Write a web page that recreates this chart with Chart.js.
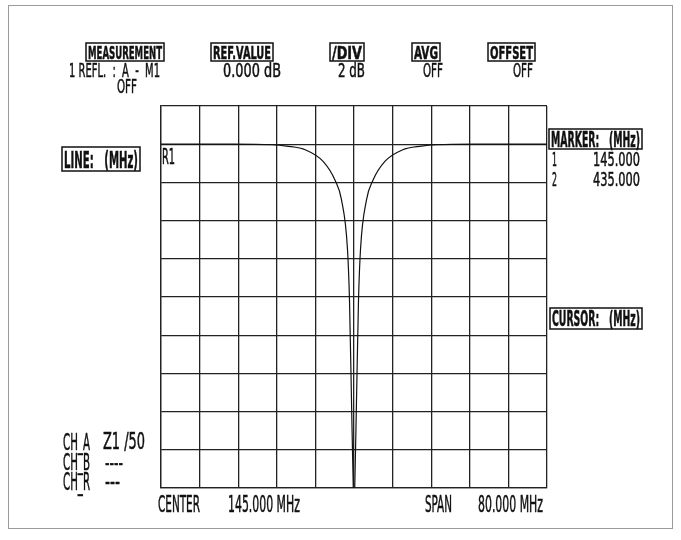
<!DOCTYPE html>
<html lang="en">
<head>
<meta charset="UTF-8">
<title>Reflection sweep</title>
<script src="https://cdn.jsdelivr.net/npm/chart.js"></script>
<style>
  html, body { margin: 0; padding: 0; background: #fff; }
  #plot { display: block; }
</style>
</head>
<body>
<canvas id="plot" width="681" height="540"></canvas>
<script>
// sweep (MHz / dB, 2 dB per div, ref 0 dB)
const freqMHz = [105, 120, 128, 131, 135, 138.6, 141.1, 142.4, 143.65, 144.07, 144.48, 144.85, 145,
                 145.15, 145.52, 145.93, 146.35, 147.6, 148.9, 151.4, 155, 159, 162, 170, 185];
const reflDb  = [0, 0, -0.03, -0.1, -0.3, -0.9, -1.9, -2.9, -5.5, -8.2, -13.4, -18, -19,
                 -18, -13.4, -8.2, -5.5, -2.9, -1.9, -0.9, -0.3, -0.1, -0.03, 0, 0];
const xTicks = [105, 113, 121, 129, 137, 145, 153, 161, 169, 177, 185];
const yTicks = [2, 0, -2, -4, -6, -8, -10, -12, -14, -16, -18];

const FONT = '"Liberation Sans Narrow", "DejaVu Sans Condensed", "Liberation Sans", sans-serif';

// [text, left, capTop, right, baseline, bold, box]
const labels = [
  ['MEASUREMENT', 88, 46, 162, 59, true, [86, 43, 164, 61]],
  ['1 REFL.  :  A  -  M1', 69, 63, 160, 77],
  ['OFF', 117, 79, 137, 93],
  ['REF.VALUE', 213, 46, 271, 59, true, [211, 43, 273, 61]],
  ['0.000 dB', 223, 63, 281, 77],
  ['/DIV', 332, 46, 362, 59, true, [330, 43, 364, 61]],
  ['2 dB', 338, 63, 365, 77],
  ['AVG', 414, 46, 438, 59, true, [412, 43, 440, 61]],
  ['OFF', 423, 63, 443, 77],
  ['OFFSET', 490, 46, 533, 59, true, [488, 43, 535, 61]],
  ['OFF', 513, 63, 533, 77],
  ['LINE:   (MHz)', 64, 151, 138, 168, true, [62, 147, 140, 171]],
  ['R1', 162, 149, 175, 164],
  ['MARKER:   (MHz)', 551, 132, 640, 147, true, [549, 129, 642, 149]],
  ['1', 552, 152, 557, 166],
  ['145.000', 593, 152, 640, 166],
  ['2', 552, 172, 557, 186],
  ['435.000', 593, 172, 640, 186],
  ['CURSOR:   (MHz)', 552, 311, 640, 326, true, [550, 308, 642, 329]],
  ['CH_A', 63, 433, 90, 450],
  ['Z1 /50', 103, 433, 145, 449],
  ['CH_B', 63, 453, 90, 470],
  ['----', 105, 453, 123, 470],
  ['CH_R', 63, 472, 90, 490],
  ['---', 105, 472, 120, 490],
  ['CENTER', 158, 495, 200, 512],
  ['145.000 MHz', 228, 495, 300, 512],
  ['SPAN', 425, 495, 452, 512],
  ['80.000 MHz', 478, 495, 543, 512]
];

const screenText = {
  id: 'screenText',
  beforeDraw(chart) {
    const ctx = chart.ctx;
    ctx.save();
    ctx.fillStyle = '#fff';
    ctx.fillRect(0, 0, chart.width, chart.height);
    ctx.strokeStyle = '#9a9a9a';
    ctx.lineWidth = 1;
    ctx.strokeRect(8.5, 5.5, 664, 523);
    ctx.restore();
  },
  afterDraw(chart) {
    const ctx = chart.ctx;
    ctx.save();
    ctx.fillStyle = '#111';
    ctx.strokeStyle = '#111';
    labels.forEach(l => {
      const [t, x0, top, x1, base, bold, box] = l;
      const size = (base - top) / 0.72;
      ctx.font = (bold ? 'bold ' : '') + size.toFixed(1) + 'px ' + FONT;
      ctx.textBaseline = 'alphabetic';
      const w = ctx.measureText(t).width;
      ctx.save();
      ctx.translate(x0, base);
      ctx.scale((x1 - x0) / w, 1);
      ctx.fillText(t, 0, 0);
      // plotter pen is a bit heavier than the font
      ctx.lineWidth = 0.5;
      ctx.strokeText(t, 0, 0);
      ctx.restore();
      if (box) {
        ctx.lineWidth = 1.5;
        ctx.strokeRect(box[0], box[1], box[2] - box[0], box[3] - box[1]);
      }
    });
    ctx.restore();
  }
};

new Chart(document.getElementById('plot'), {
  type: 'line',
  data: {
    datasets: [{
      data: freqMHz.map((f, i) => ({ x: f, y: reflDb[i] })),
      borderColor: '#111',
      borderWidth: 1.2,
      pointRadius: 0,
      cubicInterpolationMode: 'monotone',
      fill: false
    }]
  },
  options: {
    responsive: false,
    animation: false,
    devicePixelRatio: 1,
    layout: { padding: { left: 161, top: 106, right: 134, bottom: 52 } },
    plugins: { legend: { display: false }, tooltip: { enabled: false } },
    scales: {
      x: {
        type: 'linear', min: 105, max: 185,
        afterBuildTicks: s => { s.ticks = xTicks.map(v => ({ value: v })); },
        ticks: { display: false },
        grid: { color: '#222', lineWidth: 1.3, drawTicks: false },
        border: { color: '#222', width: 1.3 }
      },
      y: {
        type: 'linear', min: -18, max: 2,
        afterBuildTicks: s => { s.ticks = yTicks.map(v => ({ value: v })); },
        ticks: { display: false },
        grid: { color: '#222', lineWidth: 1.3, drawTicks: false },
        border: { color: '#222', width: 1.3 }
      }
    }
  },
  plugins: [screenText]
});
</script>
</body>
</html>
